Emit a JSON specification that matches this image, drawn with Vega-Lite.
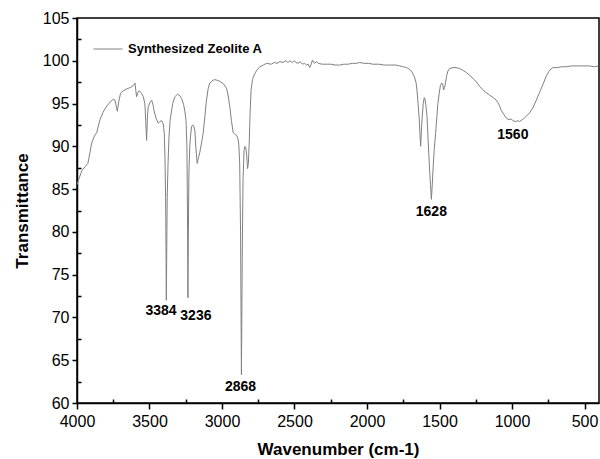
{
  "$schema": "https://vega.github.io/schema/vega-lite/v6.json",
  "width": 522,
  "height": 385,
  "autosize": {"type": "none"},
  "padding": {"left": 77, "top": 18, "right": 1, "bottom": 56},
  "config": {
    "font": "Liberation Sans",
    "view": {"stroke": "black", "strokeWidth": 1.5}
  },
  "datasets": {
    "spectrum": [
      {"wn":4000,"T":85.5},{"wn":3985,"T":86.3},{"wn":3965,"T":87.2},{"wn":3945,"T":87.6},{"wn":3925,"T":88.0},
      {"wn":3910,"T":89.3},{"wn":3899,"T":90.4},{"wn":3880,"T":91.2},{"wn":3864,"T":91.6},{"wn":3842,"T":93.1},
      {"wn":3820,"T":94.0},{"wn":3795,"T":94.7},{"wn":3770,"T":95.2},{"wn":3750,"T":95.5},{"wn":3738,"T":95.4},
      {"wn":3728,"T":94.6},{"wn":3722,"T":94.1},{"wn":3712,"T":95.2},{"wn":3700,"T":96.2},{"wn":3680,"T":96.5},
      {"wn":3658,"T":96.7},{"wn":3630,"T":96.9},{"wn":3612,"T":97.1},{"wn":3600,"T":97.4},{"wn":3594,"T":96.5},
      {"wn":3589,"T":95.8},{"wn":3580,"T":96.3},{"wn":3571,"T":96.5},{"wn":3555,"T":96.2},{"wn":3543,"T":95.8},
      {"wn":3532,"T":95.0},{"wn":3526,"T":93.0},{"wn":3520,"T":90.7},{"wn":3514,"T":93.5},{"wn":3509,"T":94.6},
      {"wn":3495,"T":95.2},{"wn":3485,"T":95.4},{"wn":3475,"T":94.8},{"wn":3469,"T":94.2},{"wn":3455,"T":93.3},
      {"wn":3440,"T":92.7},{"wn":3428,"T":92.9},{"wn":3416,"T":93.0},{"wn":3405,"T":92.6},{"wn":3398,"T":91.5},
      {"wn":3393,"T":88.5},{"wn":3389,"T":84.0},{"wn":3386,"T":78.0},{"wn":3384,"T":72.0},{"wn":3381,"T":78.0},
      {"wn":3378,"T":84.0},{"wn":3372,"T":88.0},{"wn":3366,"T":91.0},{"wn":3358,"T":93.0},{"wn":3352,"T":93.7},
      {"wn":3340,"T":95.0},{"wn":3325,"T":95.8},{"wn":3306,"T":96.1},{"wn":3290,"T":95.9},{"wn":3279,"T":95.6},
      {"wn":3265,"T":94.9},{"wn":3256,"T":94.1},{"wn":3248,"T":93.0},{"wn":3242,"T":90.0},{"wn":3238,"T":82.0},
      {"wn":3235,"T":72.3},{"wn":3232,"T":80.0},{"wn":3228,"T":87.0},{"wn":3222,"T":90.0},{"wn":3217,"T":91.2},
      {"wn":3210,"T":92.3},{"wn":3203,"T":92.5},{"wn":3195,"T":92.4},{"wn":3187,"T":91.8},{"wn":3180,"T":89.8},
      {"wn":3171,"T":88.0},{"wn":3162,"T":88.7},{"wn":3153,"T":89.3},{"wn":3140,"T":90.5},{"wn":3130,"T":91.5},
      {"wn":3118,"T":93.5},{"wn":3107,"T":95.4},{"wn":3095,"T":96.8},{"wn":3084,"T":97.4},{"wn":3065,"T":97.7},
      {"wn":3049,"T":97.8},{"wn":3030,"T":97.7},{"wn":3015,"T":97.6},{"wn":2990,"T":97.3},{"wn":2969,"T":96.8},
      {"wn":2958,"T":96.0},{"wn":2946,"T":94.6},{"wn":2935,"T":93.0},{"wn":2923,"T":91.6},{"wn":2910,"T":91.4},
      {"wn":2900,"T":91.3},{"wn":2890,"T":90.9},{"wn":2884,"T":90.2},{"wn":2878,"T":88.0},{"wn":2872,"T":80.0},
      {"wn":2866,"T":63.3},{"wn":2860,"T":78.0},{"wn":2855,"T":86.0},{"wn":2848,"T":89.5},{"wn":2842,"T":90.0},
      {"wn":2836,"T":89.9},{"wn":2830,"T":89.0},{"wn":2824,"T":87.4},{"wn":2818,"T":88.0},{"wn":2812,"T":90.5},
      {"wn":2806,"T":94.0},{"wn":2800,"T":96.5},{"wn":2790,"T":97.8},{"wn":2774,"T":98.5},{"wn":2760,"T":98.9},
      {"wn":2739,"T":99.3},{"wn":2715,"T":99.5},{"wn":2693,"T":99.7},{"wn":2660,"T":99.6},{"wn":2640,"T":99.8},
      {"wn":2620,"T":99.7},{"wn":2601,"T":99.9},{"wn":2580,"T":99.8},{"wn":2560,"T":100.0},{"wn":2545,"T":99.8},
      {"wn":2532,"T":100.0},{"wn":2515,"T":99.8},{"wn":2500,"T":100.0},{"wn":2490,"T":99.8},{"wn":2475,"T":99.7},
      {"wn":2460,"T":99.9},{"wn":2445,"T":99.6},{"wn":2430,"T":99.7},{"wn":2417,"T":99.5},{"wn":2405,"T":99.6},
      {"wn":2395,"T":99.2},{"wn":2385,"T":99.6},{"wn":2376,"T":100.1},{"wn":2368,"T":99.8},{"wn":2360,"T":99.7},
      {"wn":2350,"T":99.9},{"wn":2335,"T":99.7},{"wn":2310,"T":99.6},{"wn":2280,"T":99.6},{"wn":2250,"T":99.6},
      {"wn":2220,"T":99.5},{"wn":2188,"T":99.5},{"wn":2160,"T":99.6},{"wn":2130,"T":99.6},{"wn":2100,"T":99.7},
      {"wn":2075,"T":99.7},{"wn":2050,"T":99.8},{"wn":2020,"T":99.7},{"wn":1990,"T":99.7},{"wn":1959,"T":99.6},
      {"wn":1920,"T":99.6},{"wn":1880,"T":99.5},{"wn":1843,"T":99.5},{"wn":1800,"T":99.5},{"wn":1775,"T":99.4},
      {"wn":1750,"T":99.3},{"wn":1728,"T":99.2},{"wn":1705,"T":99.0},{"wn":1690,"T":98.7},{"wn":1675,"T":98.2},
      {"wn":1662,"T":97.5},{"wn":1655,"T":96.5},{"wn":1648,"T":95.0},{"wn":1641,"T":93.5},{"wn":1635,"T":91.5},
      {"wn":1630,"T":90.0},{"wn":1625,"T":91.8},{"wn":1619,"T":93.5},{"wn":1612,"T":95.0},{"wn":1605,"T":95.7},
      {"wn":1600,"T":95.5},{"wn":1594,"T":94.8},{"wn":1586,"T":93.5},{"wn":1578,"T":90.5},{"wn":1570,"T":87.8},
      {"wn":1562,"T":85.5},{"wn":1556,"T":83.8},{"wn":1550,"T":85.5},{"wn":1544,"T":87.5},{"wn":1537,"T":89.5},
      {"wn":1527,"T":91.5},{"wn":1518,"T":93.5},{"wn":1511,"T":95.0},{"wn":1502,"T":96.2},{"wn":1494,"T":97.1},
      {"wn":1485,"T":97.4},{"wn":1478,"T":97.2},{"wn":1471,"T":96.6},{"wn":1465,"T":96.9},{"wn":1458,"T":97.5},
      {"wn":1450,"T":98.3},{"wn":1442,"T":98.8},{"wn":1430,"T":99.1},{"wn":1407,"T":99.2},{"wn":1385,"T":99.2},
      {"wn":1361,"T":99.1},{"wn":1340,"T":98.9},{"wn":1320,"T":98.7},{"wn":1292,"T":98.3},{"wn":1260,"T":97.8},
      {"wn":1240,"T":97.4},{"wn":1223,"T":97.0},{"wn":1200,"T":96.6},{"wn":1180,"T":96.3},{"wn":1155,"T":96.0},
      {"wn":1130,"T":95.7},{"wn":1108,"T":95.4},{"wn":1090,"T":94.9},{"wn":1074,"T":94.2},{"wn":1055,"T":93.7},
      {"wn":1039,"T":93.3},{"wn":1020,"T":93.1},{"wn":1005,"T":93.2},{"wn":994,"T":93.0},{"wn":975,"T":92.9},
      {"wn":960,"T":93.0},{"wn":948,"T":92.9},{"wn":930,"T":93.1},{"wn":915,"T":93.3},{"wn":902,"T":93.5},
      {"wn":880,"T":93.9},{"wn":856,"T":94.5},{"wn":835,"T":95.3},{"wn":810,"T":96.3},{"wn":785,"T":97.3},
      {"wn":764,"T":98.2},{"wn":740,"T":98.9},{"wn":718,"T":99.2},{"wn":690,"T":99.2},{"wn":660,"T":99.3},
      {"wn":626,"T":99.3},{"wn":590,"T":99.4},{"wn":550,"T":99.4},{"wn":511,"T":99.4},{"wn":470,"T":99.4},
      {"wn":430,"T":99.3},{"wn":405,"T":99.4}
    ],
    "peaks": [
      {"wn":3421,"T":70.75,"label":"3384"},
      {"wn":3180,"T":70.2,"label":"3236"},
      {"wn":2872,"T":61.9,"label":"2868"},
      {"wn":1556,"T":82.35,"label":"1628"},
      {"wn":994,"T":91.3,"label":"1560"}
    ]
  },
  "resolve": {"axis": {"x": "independent", "y": "independent"}},
  "layer": [
    {
      "data": {"name": "spectrum"},
      "mark": {"type": "line", "strokeWidth": 1, "clip": true},
      "encoding": {
        "x": {
          "field": "wn", "type": "quantitative",
          "scale": {"domain": [400, 4000], "reverse": true, "nice": false, "zero": false},
          "axis": {
            "orient": "bottom",
            "values": [4000, 3500, 3000, 2500, 2000, 1500, 1000, 500],
            "format": "d", "grid": false,
            "domainColor": "black", "domainWidth": 1.5,
            "tickColor": "black", "tickWidth": 1.5, "tickSize": 6,
            "labelFontSize": 16, "labelColor": "black", "labelPadding": 4,
            "labelFlush": false, "labelOverlap": false,
            "title": "Wavenumber (cm-1)", "titleFontSize": 17, "titleFontWeight": "bold",
            "titleColor": "black", "titleBaseline": "alphabetic", "titleY": 51
          }
        },
        "y": {
          "field": "T", "type": "quantitative",
          "scale": {"domain": [60, 105], "nice": false, "zero": false},
          "axis": {
            "orient": "left",
            "values": [60, 65, 70, 75, 80, 85, 90, 95, 100, 105],
            "grid": false,
            "domainColor": "black", "domainWidth": 1.5,
            "tickColor": "black", "tickWidth": 1.5, "tickSize": 5,
            "labelFontSize": 16, "labelColor": "black", "labelPadding": 3,
            "labelFlush": false, "labelOverlap": false,
            "title": "Transmittance", "titleFontSize": 17, "titleFontWeight": "bold",
            "titleColor": "black", "titleBaseline": "alphabetic", "titleX": -50, "titleAngle": -90
          }
        },
        "color": {
          "datum": "Synthesized Zeolite A", "type": "nominal",
          "scale": {"range": ["#808080"]},
          "legend": {
            "orient": "none", "legendX": 16, "legendY": 16,
            "title": null, "symbolType": "stroke", "symbolSize": 841,
            "symbolStrokeWidth": 1, "labelFontSize": 13, "labelFontWeight": "bold",
            "labelColor": "black", "labelOffset": 5, "padding": 0
          }
        }
      }
    },
    {
      "data": {"name": "peaks"},
      "mark": {"type": "text", "fontSize": 14, "fontWeight": "bold", "color": "black", "align": "center", "baseline": "middle"},
      "encoding": {
        "x": {
          "field": "wn", "type": "quantitative",
          "axis": {
            "orient": "bottom",
            "values": [3750, 3250, 2750, 2250, 1750, 1250, 750],
            "labels": false, "domain": false, "grid": false, "title": null,
            "tickColor": "black", "tickWidth": 1.5, "tickSize": -4
          }
        },
        "y": {
          "field": "T", "type": "quantitative",
          "axis": {
            "orient": "left",
            "values": [62.5, 67.5, 72.5, 77.5, 82.5, 87.5, 92.5, 97.5, 102.5],
            "labels": false, "domain": false, "grid": false, "title": null,
            "tickColor": "black", "tickWidth": 1.5, "tickSize": -4
          }
        },
        "text": {"field": "label", "type": "nominal"}
      }
    }
  ]
}
